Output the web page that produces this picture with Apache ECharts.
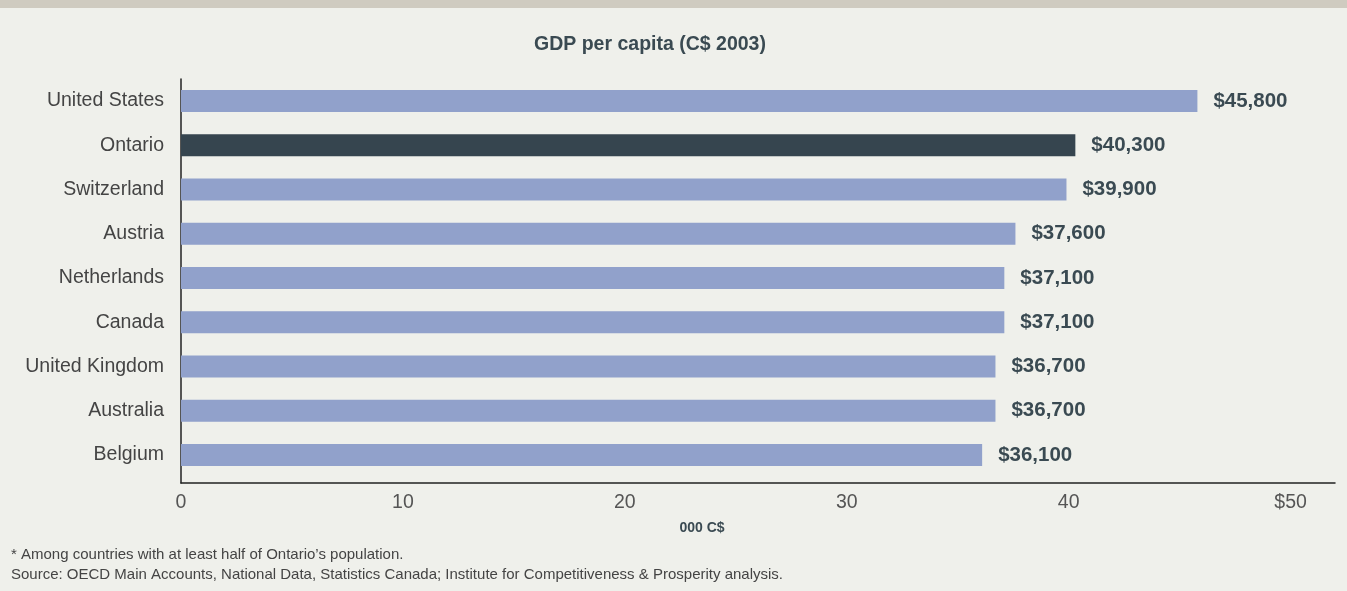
<!DOCTYPE html>
<html>
<head>
<meta charset="utf-8">
<script src="https://cdn.jsdelivr.net/npm/echarts@6/dist/echarts.min.js"></script>
<style>
  html, body { margin: 0; padding: 0; background: #eff0eb; }
  #chart { width: 1347px; height: 591px; }
</style>
</head>
<body>
<div id="chart"></div>
<script>
// GDP per capita, thousands of 2003 Canadian dollars
const countries = ['United States', 'Ontario', 'Switzerland', 'Austria', 'Netherlands', 'Canada', 'United Kingdom', 'Australia', 'Belgium'];
const gdpPerCapita = [45.8, 40.3, 39.9, 37.6, 37.1, 37.1, 36.7, 36.7, 36.1];
const highlight = 'Ontario';
const xTickLabels = ['0', '10', '20', '30', '40', '$50'];

const FONT = '"Liberation Sans", Arial, Helvetica, sans-serif';
const barColor = '#91a1cb';
const highlightColor = '#36454f';

const chart = echarts.init(document.getElementById('chart'), null, { renderer: 'canvas' });

const option = {
  backgroundColor: '#eff0eb',
  animation: false,
  title: [
    {
      text: 'GDP per capita (C$ 2003)',
      left: 645, top: 30, textAlign: 'center',
      textStyle: { fontFamily: FONT, fontSize: 19.5, fontWeight: 'bold', color: '#3a4a52' }
    },
    {
      text: '000 C$',
      left: 697, top: 516, textAlign: 'center',
      textStyle: { fontFamily: FONT, fontSize: 14, fontWeight: 'bold', color: '#3a4a52' }
    },
    {
      text: '* Among countries with at least half of Ontario\u2019s population.\nSource: OECD Main Accounts, National Data, Statistics Canada; Institute for Competitiveness & Prosperity analysis.',
      left: 6, top: 540,
      textStyle: { fontFamily: FONT, fontSize: 15, fontWeight: 'normal', color: '#444', lineHeight: 20 }
    }
  ],
  graphic: [
    { type: 'rect', left: 0, top: 0, shape: { width: 1347, height: 8 }, style: { fill: '#cfcbc0' }, silent: true }
  ],
  grid: [
    { left: 181, right: 12, top: 79, height: 398, containLabel: false },
    { left: 181, right: 12, top: 79, height: 404, containLabel: false }
  ],
  xAxis: [
    {
      gridIndex: 0, type: 'value', min: 0, max: 52, interval: 10,
      show: false
    },
    {
      gridIndex: 1, type: 'value', min: 0, max: 52, interval: 10,
      axisLine: { show: true, lineStyle: { color: '#222', width: 1.5 } },
      axisTick: { show: false },
      splitLine: { show: false },
      axisLabel: {
        margin: 10, fontFamily: FONT, fontSize: 19.5, color: '#555',
        formatter: v => {
          const i = Math.round(v / 10);
          return (v % 10 === 0 && i < xTickLabels.length) ? xTickLabels[i] : '';
        }
      }
    }
  ],
  yAxis: [
    {
      gridIndex: 0, type: 'category', data: countries, inverse: true,
      axisLine: { show: false },
      axisTick: { show: false },
      axisLabel: { margin: 17, fontFamily: FONT, fontSize: 19.5, color: '#444' }
    },
    {
      gridIndex: 1, type: 'value', min: 0, max: 1,
      axisLine: { show: true, lineStyle: { color: '#222', width: 1.5 } },
      axisTick: { show: false },
      axisLabel: { show: false },
      splitLine: { show: false }
    }
  ],
  series: [
    {
      type: 'bar',
      xAxisIndex: 0, yAxisIndex: 0,
      barWidth: 22,
      data: gdpPerCapita.map((v, i) => ({
        value: v,
        itemStyle: { color: countries[i] === highlight ? highlightColor : barColor }
      })),
      label: {
        show: true, position: 'right', distance: 16,
        fontFamily: FONT, fontSize: 20.5, fontWeight: 'bold', color: '#3a4a52',
        formatter: p => '$' + Math.round(p.value * 1000).toLocaleString('en-US')
      }
    }
  ]
};

chart.setOption(option);
</script>
</body>
</html>
